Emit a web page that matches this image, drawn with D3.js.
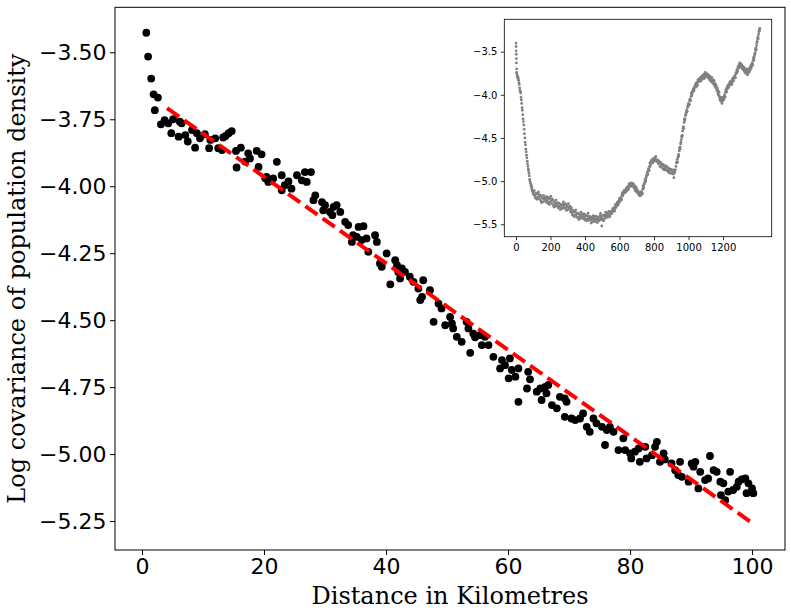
<!DOCTYPE html>
<html>
<head>
<meta charset="utf-8">
<script src="https://cdn.jsdelivr.net/npm/d3@7"></script>
<style>
  html, body { margin: 0; padding: 0; background: #ffffff; }
  svg { display: block; }
</style>
</head>
<body>
<svg id="chart" width="791" height="616"></svg>
<script>
// ---------------- DATA ----------------
// Main scatter: [distance km, log covariance]
const mainPoints = [
[0.7,-3.427],[1.0,-3.516],[1.5,-3.598],[1.9,-3.657],[2.6,-3.669],[2.1,-3.716],[3.1,-3.769],[3.7,-3.753],[4.3,-3.765],[4.8,-3.802],
[5.1,-3.750],[6.0,-3.815],[6.2,-3.759],[6.5,-3.765],[7.1,-3.809],[7.5,-3.833],[8.2,-3.790],[8.7,-3.856],[9.0,-3.802],[9.5,-3.821],
[10.3,-3.806],[11.0,-3.858],[11.2,-3.827],[12.0,-3.821],[12.5,-3.858],[13.1,-3.865],[13.3,-3.818],[13.7,-3.812],[14.2,-3.802],[14.7,-3.794],
[15.4,-3.868],[15.5,-3.930],[16.2,-3.856],[16.9,-3.908],[17.4,-3.877],[17.7,-3.896],[18.8,-3.868],[19.1,-3.928],[19.6,-3.881],[20.2,-3.970],
[20.4,-3.965],[20.7,-3.984],[21.5,-3.971],[22.1,-3.909],[22.9,-3.959],[23.4,-3.996],[22.9,-4.015],[24.5,-4.009],[24.0,-3.982],[25.4,-3.959],
[26.2,-3.978],[27.0,-3.984],[26.7,-3.947],[27.7,-3.947],[28.4,-4.034],[28.1,-4.052],[29.5,-4.059],[30.0,-4.071],[29.7,-4.090],[30.8,-4.096],
[31.4,-4.077],[31.9,-4.071],[32.5,-4.096],[31.2,-4.108],[33.3,-4.133],[33.8,-4.145],[35.5,-4.152],[36.3,-4.149],[34.6,-4.183],[34.4,-4.208],
[35.2,-4.189],[36.0,-4.201],[36.8,-4.195],[38.2,-4.183],[38.5,-4.208],[37.1,-4.245],[40.1,-4.251],[39.0,-4.288],[39.3,-4.301],[41.5,-4.276],
[41.8,-4.295],[42.6,-4.307],[43.1,-4.320],[42.0,-4.320],[42.3,-4.344],[40.7,-4.366],[43.9,-4.338],[44.5,-4.357],[45.3,-4.382],[46.1,-4.351],
[45.9,-4.413],[45.6,-4.425],[47.2,-4.388],[48.6,-4.438],[49.1,-4.456],[47.8,-4.506],[50.5,-4.488],[49.7,-4.519],[51.0,-4.531],[50.8,-4.512],
[53.2,-4.506],[53.5,-4.531],[51.6,-4.562],[52.4,-4.581],[54.3,-4.550],[54.6,-4.564],[55.4,-4.556],[56.2,-4.562],[55.7,-4.593],[56.8,-4.593],
[53.8,-4.622],[57.6,-4.637],[59.0,-4.649],[58.7,-4.680],[59.5,-4.668],[60.3,-4.643],[60.6,-4.686],[60.1,-4.717],[61.2,-4.711],[61.7,-4.680],
[61.7,-4.805],[63.3,-4.693],[63.6,-4.721],[63.1,-4.755],[64.7,-4.767],[65.3,-4.755],[66.1,-4.749],[66.6,-4.742],[66.3,-4.773],[65.5,-4.798],
[67.2,-4.817],[68.0,-4.829],[68.5,-4.786],[69.3,-4.792],[69.6,-4.805],[69.3,-4.861],[70.4,-4.867],[71.0,-4.873],[71.8,-4.867],[72.3,-4.848],
[72.9,-4.898],[73.4,-4.917],[74.0,-4.867],[74.5,-4.885],[75.4,-4.898],[76.2,-4.910],[75.9,-4.966],[76.7,-4.898],[77.3,-4.917],[78.9,-4.941],
[78.1,-4.985],[79.2,-4.985],[80.0,-4.997],[80.2,-5.016],[80.8,-4.991],[81.4,-4.979],[81.6,-5.029],[82.5,-4.973],[82.7,-5.016],[83.6,-5.004],
[84.4,-4.954],[84.1,-4.973],[84.9,-5.029],[85.5,-4.997],[85.7,-5.020],[86.8,-5.035],[87.4,-5.060],[88.2,-5.029],[87.9,-5.078],[88.5,-5.085],
[89.6,-5.103],[90.1,-5.035],[90.7,-5.029],[90.4,-5.047],[91.5,-5.066],[92.3,-5.097],[92.8,-5.091],[91.2,-5.128],[93.1,-5.007],[93.7,-5.060],
[94.2,-5.066],[94.8,-5.103],[95.3,-5.109],[96.4,-5.066],[94.9,-5.153],[95.6,-5.172],[96.1,-5.140],[96.9,-5.134],[97.5,-5.122],[97.8,-5.103],
[98.3,-5.094],[98.9,-5.091],[99.4,-5.109],[99.1,-5.146],[100.0,-5.128],[100.2,-5.146]
];

// Fitted trend line (red dashed)
const fitX = [4.1, 99.7];
const fitY = [-3.708, -5.252];

// Tick values
const mainXTicks = [0, 20, 40, 60, 80, 100];
const mainYTicks = [-5.25, -5.0, -4.75, -4.5, -4.25, -4.0, -3.75, -3.5];
const insetXTicks = [0, 200, 400, 600, 800, 1000, 1200];
const insetYTicks = [-5.5, -5.0, -4.5, -4.0, -3.5];

const xLabel = "Distance in Kilometres";
const yLabel = "Log covariance of population density";

// Inset scatter (full distance range): [distance km, log covariance]
const insetPoints = [
[0,-3.40],[0.5,-3.44],[1,-3.49],[1.5,-3.53],[2,-3.58],[2.5,-3.63],[3,-3.70],[4,-3.74],[5,-3.76],[7,-3.79],
[9,-3.78],[11,-3.81],[13,-3.80],[15,-3.83],[17,-3.86],[19,-3.88],[21,-3.92],[23,-3.95],[25,-3.96],[27,-3.98],
[29,-4.03],[31,-4.06],[33,-4.10],[35,-4.15],[37,-4.18],[39,-4.23],[41,-4.28],[43,-4.31],[45,-4.35],[47,-4.40],
[49,-4.45],[51,-4.50],[53,-4.55],[55,-4.58],[57,-4.63],[59,-4.66],[61,-4.70],[63,-4.73],[65,-4.77],[67,-4.80],
[69,-4.83],[71,-4.86],[73,-4.88],[75,-4.91],[77,-4.94],[79,-4.98],[81,-5.00],[83,-5.02],[85,-5.03],[87,-5.06],
[89,-5.05],[91,-5.09],[93,-5.08],[95,-5.11],[97,-5.12],[99,-5.14],[101,-5.12],[103,-5.16],
[106,-5.11],[109,-5.17],[112,-5.195],[115,-5.14],[118,-5.15],[121,-5.21],[124,-5.19],[127,-5.15],[130,-5.125],[133,-5.18],
[136,-5.21],[139,-5.16],[142,-5.17],[145,-5.23],[148,-5.25],[151,-5.19],[154,-5.20],[157,-5.24],[160,-5.165],[163,-5.20],
[166,-5.215],[169,-5.19],[172,-5.24],[175,-5.21],[178,-5.18],[181,-5.23],[184,-5.255],[187,-5.19],[190,-5.205],[193,-5.27],
[196,-5.24],[199,-5.20],[202,-5.175],[205,-5.23],[208,-5.26],[211,-5.21],[214,-5.22],[217,-5.28],[220,-5.30],[223,-5.24],
[226,-5.255],[229,-5.29],[232,-5.22],[235,-5.27],[238,-5.28],[241,-5.25],[244,-5.31],[247,-5.29],[250,-5.255],[253,-5.30],
[256,-5.33],[259,-5.27],[262,-5.28],[265,-5.32],[268,-5.31],[271,-5.27],[274,-5.24],[277,-5.29],[280,-5.315],[283,-5.27],
[286,-5.26],[289,-5.31],[292,-5.34],[295,-5.28],[298,-5.295],[301,-5.33],[304,-5.26],[307,-5.30],[310,-5.32],[313,-5.29],
[316,-5.355],[319,-5.33],[322,-5.31],[325,-5.37],[328,-5.395],[331,-5.34],[334,-5.355],[337,-5.41],[340,-5.395],[343,-5.36],
[346,-5.335],[349,-5.39],[352,-5.42],[355,-5.37],[358,-5.375],[361,-5.42],[364,-5.445],[367,-5.38],[370,-5.40],[373,-5.43],
[376,-5.36],[379,-5.40],[382,-5.415],[385,-5.38],[388,-5.435],[391,-5.41],[394,-5.38],[397,-5.43],[400,-5.45],[403,-5.39],
[406,-5.405],[409,-5.46],[412,-5.44],[415,-5.40],[418,-5.37],[421,-5.42],[424,-5.455],[427,-5.43],[430,-5.41],[433,-5.45],
[436,-5.485],[439,-5.42],[442,-5.44],[445,-5.47],[448,-5.40],[451,-5.43],[454,-5.45],[457,-5.41],[460,-5.47],[463,-5.44],
[466,-5.41],[469,-5.45],[472,-5.48],[475,-5.42],[478,-5.425],[481,-5.46],[484,-5.45],[487,-5.40],[490,-5.375],[493,-5.43],
[496,-5.45],[497,-5.52],[499,-5.41],[502,-5.40],[505,-5.44],[508,-5.46],[511,-5.39],[514,-5.405],[517,-5.43],[520,-5.36],
[523,-5.39],[526,-5.405],[529,-5.37],[532,-5.42],[535,-5.38],[538,-5.35],[541,-5.39],[544,-5.41],[547,-5.36],[550,-5.35],
[553,-5.38],[556,-5.365],
[560,-5.32],[562,-5.34],[564,-5.35],[566,-5.32],[568,-5.31],[570,-5.33],[572,-5.345],[574,-5.30],[576,-5.27],[578,-5.31],
[580,-5.30],[582,-5.27],[584,-5.28],[586,-5.26],[588,-5.245],[590,-5.28],[592,-5.27],[594,-5.24],[596,-5.225],[598,-5.25],
[600,-5.20],[602,-5.22],[604,-5.23],[606,-5.20],[608,-5.19],[610,-5.21],[612,-5.215],[614,-5.16],[616,-5.135],[618,-5.17],
[620,-5.16],[622,-5.13],[624,-5.14],[626,-5.12],[628,-5.105],[630,-5.13],[632,-5.135],[634,-5.11],[636,-5.10],[638,-5.12],
[640,-5.08],[642,-5.10],[644,-5.11],[646,-5.07],[648,-5.065],[650,-5.09],[652,-5.095],[654,-5.05],[656,-5.03],[658,-5.06],
[660,-5.06],[662,-5.04],[664,-5.045],[666,-5.06],[668,-5.02],[670,-5.04],[672,-5.055],[674,-5.03],[676,-5.035],[678,-5.06],
[680,-5.03],[682,-5.06],[684,-5.08],[686,-5.05],[688,-5.065],[690,-5.09],[692,-5.115],[694,-5.08],[696,-5.07],[698,-5.10],
[700,-5.12],[702,-5.10],[704,-5.12],[706,-5.14],[708,-5.115],[710,-5.13],[712,-5.16],[714,-5.13],[716,-5.14],[718,-5.17],
[720,-5.135],[722,-5.15],[724,-5.165],[726,-5.13],[728,-5.12],[730,-5.15],[732,-5.14],[734,-5.09],[736,-5.055],[738,-5.09],
[740,-5.07],[742,-5.04],[744,-5.03],[746,-5.01],[748,-4.98],[750,-5.01],[752,-4.995],[754,-4.96],[756,-4.94],[758,-4.93],
[760,-4.90],[762,-4.93],[764,-4.915],[766,-4.88],[768,-4.855],[770,-4.88],[772,-4.87],[774,-4.83],[776,-4.79],[778,-4.83],
[780,-4.81],[783,-4.77],
[786,-4.76],[789,-4.75],[792,-4.79],[795,-4.76],[798,-4.735],[801,-4.77],[804,-4.75],[807,-4.73],[810,-4.715],[813,-4.76],
[816,-4.775],[819,-4.75],[822,-4.77],[825,-4.80],[828,-4.765],[831,-4.79],[834,-4.83],[837,-4.78],[840,-4.80],[843,-4.84],
[846,-4.80],[849,-4.82],[852,-4.86],[855,-4.81],[858,-4.83],[861,-4.87],[864,-4.86],[867,-4.84],[870,-4.825],[873,-4.87],
[876,-4.88],[879,-4.84],[882,-4.87],[885,-4.90],[888,-4.855],[891,-4.88],[894,-4.91],[897,-4.86],[900,-4.875],[903,-4.91],
[906,-4.87],[909,-4.89],[912,-4.92],[915,-4.96],[918,-4.87],[921,-4.90],[924,-4.87],[927,-4.83],[930,-4.79],
[932,-4.78],[934,-4.75],[936,-4.78],[938,-4.73],[940,-4.71],[942,-4.69],[944,-4.71],[946,-4.65],[948,-4.61],[950,-4.63],
[952,-4.61],[954,-4.57],[956,-4.55],[958,-4.52],[960,-4.48],[962,-4.49],[964,-4.47],[966,-4.42],[968,-4.39],[970,-4.37],
[972,-4.39],[974,-4.32],[976,-4.28],[978,-4.30],[980,-4.28],[982,-4.24],[984,-4.23],[986,-4.21],[988,-4.18],[990,-4.20],
[992,-4.19],[994,-4.15],[996,-4.13],[998,-4.12],[1000,-4.10],[1002,-4.12],[1004,-4.11],[1006,-4.07],[1008,-4.05],[1010,-4.06],
[1012,-4.07],[1014,-4.02],[1016,-3.98],[1018,-4.01],[1020,-4.00],[1022,-3.96],[1024,-3.97],[1026,-3.95],[1028,-3.93],[1030,-3.95],
[1032,-3.95],[1034,-3.92],[1036,-3.91],[1038,-3.89],[1040,-3.88],[1042,-3.90],[1044,-3.91],[1046,-3.86],[1048,-3.87],[1050,-3.89],
[1052,-3.89],[1054,-3.84],[1056,-3.82],[1058,-3.85],[1060,-3.85],[1062,-3.82],[1064,-3.83],[1066,-3.81],[1068,-3.80],[1070,-3.83],
[1072,-3.84],[1074,-3.79],[1076,-3.80],[1078,-3.82],[1080,-3.78],[1082,-3.80],[1084,-3.81],[1086,-3.77],[1088,-3.77],[1090,-3.79],
[1092,-3.81],[1094,-3.76],[1096,-3.74],[1098,-3.77],[1100,-3.78],[1102,-3.75],[1104,-3.77],[1106,-3.79],[1108,-3.76],[1110,-3.78],
[1112,-3.80],[1114,-3.77],[1116,-3.78],[1118,-3.81],[1120,-3.78],[1122,-3.80],[1124,-3.83],[1126,-3.79],[1128,-3.81],[1130,-3.84],
[1132,-3.85],[1134,-3.82],[1136,-3.80],[1138,-3.83],[1140,-3.85],[1142,-3.87],[1144,-3.85],[1146,-3.83],[1148,-3.84],[1150,-3.88],
[1152,-3.90],[1154,-3.87],[1156,-3.88],[1158,-3.92],[1160,-3.89],[1162,-3.92],[1164,-3.95],[1166,-3.92],[1168,-3.94],[1170,-3.98],
[1172,-4.00],[1174,-3.96],[1176,-3.97],[1178,-4.01],[1180,-4.03],[1182,-4.06],[1184,-4.04],[1186,-4.07],[1188,-4.03],[1190,-4.06],
[1192,-4.08],[1194,-4.10],[1196,-4.04],[1198,-4.07],[1200,-4.03],[1202,-4.06],[1204,-4.05],[1206,-4.02],[1208,-4.00],[1210,-4.03],
[1212,-4.02],[1214,-3.97],[1216,-3.94],[1218,-3.97],[1220,-3.96],[1222,-3.92],[1224,-3.93],[1226,-3.91],[1228,-3.89],[1230,-3.92],
[1232,-3.91],[1234,-3.88],[1236,-3.87],[1238,-3.89],[1240,-3.85],[1242,-3.87],[1244,-3.88],[1246,-3.85],[1248,-3.84],[1250,-3.86],
[1252,-3.88],[1254,-3.83],[1256,-3.81],[1258,-3.84],[1260,-3.84],[1262,-3.80],[1264,-3.81],[1266,-3.79],[1268,-3.78],[1270,-3.80],
[1272,-3.80],[1274,-3.76],[1276,-3.74],[1278,-3.75],[1280,-3.71],[1282,-3.73],[1284,-3.73],[1286,-3.69],[1288,-3.67],[1290,-3.69],
[1292,-3.69],[1294,-3.65],[1296,-3.63],[1298,-3.66],[1300,-3.66],[1302,-3.64],[1304,-3.66],[1306,-3.68],[1308,-3.65],[1310,-3.67],
[1312,-3.70],[1314,-3.67],[1316,-3.68],[1318,-3.71],[1320,-3.68],[1322,-3.70],[1324,-3.73],[1326,-3.70],[1328,-3.71],[1330,-3.74],
[1332,-3.75],[1334,-3.72],[1336,-3.70],[1338,-3.73],[1340,-3.75],[1342,-3.77],[1344,-3.73],[1346,-3.71],[1348,-3.70],[1350,-3.74],
[1352,-3.73],[1354,-3.70],[1356,-3.69],[1358,-3.71],[1360,-3.67],[1362,-3.66],[1364,-3.69],[1366,-3.66],[1368,-3.64],[1370,-3.63],
[1372,-3.66],[1374,-3.60],[1376,-3.57],[1378,-3.60],[1380,-3.58],[1382,-3.55],[1384,-3.53],[1386,-3.51],[1388,-3.48],[1390,-3.46],
[1392,-3.48],[1394,-3.43],[1396,-3.40],[1398,-3.38],[1400,-3.35],[1402,-3.33],[1404,-3.35],[1406,-3.30],[1408,-3.27],[1410,-3.26],
[1411,-3.25],[1413,-3.23]
];

// ---------------- DRAW ----------------
const svg = d3.select("#chart");
svg.append("rect").attr("width", 791).attr("height", 616).attr("fill", "#ffffff");

const M = { left: 115, right: 785, top: 7.3, bottom: 550 };
const x = d3.scaleLinear().domain([-4.43, 105.4]).range([M.left, M.right]);
const y = d3.scaleLinear().domain([-5.358, -3.332]).range([M.bottom, M.top]);

const tickFont = "'DejaVu Sans', sans-serif";
const labelFont = "'DejaVu Serif', serif";

// Main points
svg.append("g").selectAll("circle").data(mainPoints).join("circle")
  .attr("cx", d => x(d[0])).attr("cy", d => y(d[1]))
  .attr("r", 3.9).attr("fill", "#000000");

// Fit line
const fitData = fitX.map((v, i) => [v, fitY[i]]);
svg.append("path").datum(fitData)
  .attr("d", d3.line().x(d => x(d[0])).y(d => y(d[1])))
  .attr("fill", "none").attr("stroke", "#ff0000")
  .attr("stroke-width", 4).attr("stroke-dasharray", "14.8,6.4");

// Main axes
const fmt2 = d3.format(".2f");
const gx = svg.append("g").attr("transform", `translate(0,${M.bottom})`)
  .call(d3.axisBottom(x).tickValues(mainXTicks).tickFormat(d3.format("d")).tickSize(5).tickSizeOuter(0).tickPadding(3.5));
const gy = svg.append("g").attr("transform", `translate(${M.left},0)`)
  .call(d3.axisLeft(y).tickValues(mainYTicks).tickFormat(fmt2).tickSize(5).tickSizeOuter(0).tickPadding(3.5));
[gx, gy].forEach(g => {
  g.select(".domain").remove();
  g.selectAll("line").attr("stroke", "#000").attr("stroke-width", 1);
  g.selectAll("text").attr("font-family", tickFont).attr("font-size", 22).attr("fill", "#000");
});

// Main frame
svg.append("rect")
  .attr("x", M.left).attr("y", M.top)
  .attr("width", M.right - M.left).attr("height", M.bottom - M.top)
  .attr("fill", "none").attr("stroke", "#000").attr("stroke-width", 1);

// Axis labels
svg.append("text").text(xLabel)
  .attr("x", (M.left + M.right) / 2).attr("y", 604)
  .attr("text-anchor", "middle")
  .attr("font-family", labelFont).attr("font-size", 24).attr("fill", "#000");
svg.append("text").text(yLabel)
  .attr("transform", `translate(25,${(M.top + M.bottom) / 2}) rotate(-90)`)
  .attr("text-anchor", "middle")
  .attr("font-family", labelFont).attr("font-size", 24).attr("fill", "#000");

// ---------------- INSET ----------------
const I = { left: 504.3, right: 771.7, top: 19.3, bottom: 236.7 };
const ix = d3.scaleLinear().domain([-67.8, 1482]).range([I.left, I.right]);
const iy = d3.scaleLinear().domain([-5.644, -3.125]).range([I.bottom, I.top]);

svg.append("rect")
  .attr("x", I.left).attr("y", I.top)
  .attr("width", I.right - I.left).attr("height", I.bottom - I.top)
  .attr("fill", "#ffffff");

svg.append("g").selectAll("circle").data(insetPoints).join("circle")
  .attr("cx", d => ix(d[0])).attr("cy", d => iy(d[1]))
  .attr("r", 1.4).attr("fill", "#808080");

const igx = svg.append("g").attr("transform", `translate(0,${I.bottom})`)
  .call(d3.axisBottom(ix).tickValues(insetXTicks).tickFormat(d3.format("d")).tickSize(3.5).tickSizeOuter(0).tickPadding(3.5));
const igy = svg.append("g").attr("transform", `translate(${I.left},0)`)
  .call(d3.axisLeft(iy).tickValues(insetYTicks).tickFormat(d3.format(".1f")).tickSize(3.5).tickSizeOuter(0).tickPadding(3.5));
[igx, igy].forEach(g => {
  g.select(".domain").remove();
  g.selectAll("line").attr("stroke", "#000").attr("stroke-width", 0.8);
  g.selectAll("text").attr("font-family", tickFont).attr("font-size", 10).attr("fill", "#000");
});

svg.append("rect")
  .attr("x", I.left).attr("y", I.top)
  .attr("width", I.right - I.left).attr("height", I.bottom - I.top)
  .attr("fill", "none").attr("stroke", "#000").attr("stroke-width", 0.8);
</script>
</body>
</html>
